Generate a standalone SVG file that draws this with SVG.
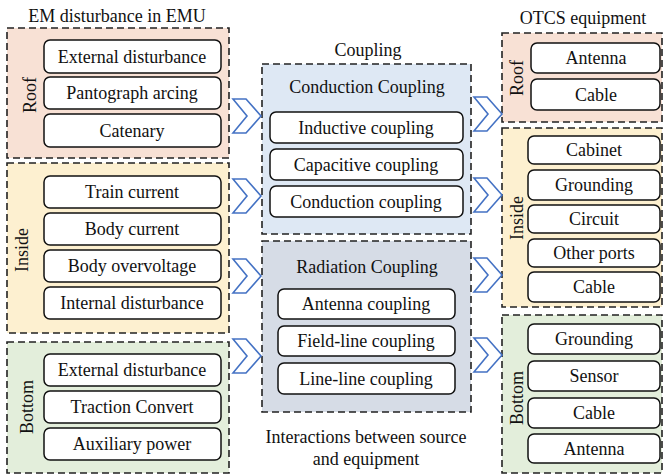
<svg xmlns="http://www.w3.org/2000/svg" width="663" height="475" viewBox="0 0 663 475" font-family="'Liberation Serif', 'Times New Roman', Times, 'DejaVu Serif', serif">
<defs>
<style>
text{font-size:18px;fill:#111;text-anchor:middle}
.grp{stroke:#222;stroke-width:1.6;stroke-dasharray:7 4}
.box{fill:#fff;stroke:#111;stroke-width:1.5}
.chev{fill:#fff;stroke:#4472c4;stroke-width:1.6;stroke-linejoin:miter}
.roof{fill:#f8e1d5}.inside{fill:#fdf0d0}.bottom{fill:#e3eedb}
.cond{fill:#dee8f4}.rad{fill:#d6dce6}
</style>
<polygon id="chev" class="chev" points="0,-17 13,-17 28,0 13,17 0,17 14,0"/>
</defs>
<rect width="663" height="475" fill="#fff"/>

<text x="117" y="22">EM disturbance in EMU</text>
<text x="368" y="56">Coupling</text>
<text x="583" y="24">OTCS equipment</text>

<g id="src-roof">
<rect class="grp roof" x="7" y="28" width="222" height="130"/>
<text transform="translate(36,95) rotate(-90)">Roof</text>
<rect class="box" x="44" y="40" width="177" height="33" rx="6"/><text x="132" y="63">External disturbance</text>
<rect class="box" x="44" y="77" width="177" height="32" rx="6"/><text x="132" y="99">Pantograph arcing</text>
<rect class="box" x="44" y="114" width="177" height="33" rx="6"/><text x="132" y="137">Catenary</text>
</g>
<g id="src-inside">
<rect class="grp inside" x="7" y="163" width="222" height="170"/>
<text transform="translate(28,250) rotate(-90)">Inside</text>
<rect class="box" x="44" y="176" width="177" height="32" rx="6"/><text x="132" y="198">Train current</text>
<rect class="box" x="44" y="213" width="177" height="32" rx="6"/><text x="132" y="235">Body current</text>
<rect class="box" x="44" y="250" width="177" height="32" rx="6"/><text x="132" y="272">Body overvoltage</text>
<rect class="box" x="44" y="287" width="177" height="32" rx="6"/><text x="132" y="309">Internal disturbance</text>
</g>
<g id="src-bottom">
<rect class="grp bottom" x="7" y="342" width="222" height="131"/>
<text transform="translate(33,407) rotate(-90)">Bottom</text>
<rect class="box" x="44" y="354" width="177" height="32" rx="6"/><text x="132" y="376">External disturbance</text>
<rect class="box" x="44" y="391" width="177" height="32" rx="6"/><text x="132" y="413">Traction Convert</text>
<rect class="box" x="44" y="428" width="177" height="32" rx="6"/><text x="132" y="450">Auxiliary power</text>
</g>

<g id="conduction">
<rect class="grp cond" x="262" y="64" width="209" height="170"/>
<text x="367" y="93">Conduction Coupling</text>
<rect class="box" x="270" y="112" width="193" height="31" rx="6"/><text x="366" y="134">Inductive coupling</text>
<rect class="box" x="270" y="149" width="193" height="31" rx="6"/><text x="366" y="171">Capacitive coupling</text>
<rect class="box" x="270" y="186" width="193" height="31" rx="6"/><text x="366" y="208">Conduction coupling</text>
</g>
<g id="radiation">
<rect class="grp rad" x="262" y="241" width="209" height="171"/>
<text x="367" y="273">Radiation Coupling</text>
<rect class="box" x="278" y="289" width="177" height="30" rx="6"/><text x="366" y="310">Antenna coupling</text>
<rect class="box" x="278" y="326" width="177" height="30" rx="6"/><text x="366" y="347">Field-line coupling</text>
<rect class="box" x="278" y="363" width="177" height="31" rx="6"/><text x="366" y="385">Line-line coupling</text>
</g>
<text x="366" y="443">Interactions between source</text>
<text x="366" y="465">and equipment</text>

<g id="eq-roof">
<rect class="grp roof" x="502" y="33" width="160" height="89"/>
<text transform="translate(523,78) rotate(-90)">Roof</text>
<rect class="box" x="531" y="43" width="129" height="30" rx="6"/><text x="596" y="64">Antenna</text>
<rect class="box" x="531" y="79" width="129" height="31" rx="6"/><text x="596" y="101">Cable</text>
</g>
<g id="eq-inside">
<rect class="grp inside" x="502" y="128" width="160" height="179"/>
<text transform="translate(523,218) rotate(-90)">Inside</text>
<rect class="box" x="528" y="136" width="132" height="28" rx="6"/><text x="594" y="156">Cabinet</text>
<rect class="box" x="528" y="170" width="132" height="30" rx="6"/><text x="594" y="191">Grounding</text>
<rect class="box" x="528" y="205" width="132" height="28" rx="6"/><text x="594" y="225">Circuit</text>
<rect class="box" x="528" y="239" width="132" height="28" rx="6"/><text x="594" y="259">Other ports</text>
<rect class="box" x="528" y="272" width="132" height="30" rx="6"/><text x="594" y="293">Cable</text>
</g>
<g id="eq-bottom">
<rect class="grp bottom" x="502" y="315" width="160" height="158"/>
<text transform="translate(523,398) rotate(-90)">Bottom</text>
<rect class="box" x="528" y="324" width="132" height="30" rx="6"/><text x="594" y="345">Grounding</text>
<rect class="box" x="528" y="361" width="132" height="30" rx="6"/><text x="594" y="382">Sensor</text>
<rect class="box" x="528" y="398" width="132" height="30" rx="6"/><text x="594" y="419">Cable</text>
<rect class="box" x="528" y="434" width="132" height="29" rx="6"/><text x="594" y="455">Antenna</text>
</g>

<g id="connectors">
<use href="#chev" x="233" y="116"/>
<use href="#chev" x="233" y="196"/>
<use href="#chev" x="233" y="276"/>
<use href="#chev" x="233" y="356"/>
<use href="#chev" x="474" y="114"/>
<use href="#chev" x="474" y="195"/>
<use href="#chev" x="474" y="275"/>
<use href="#chev" x="474" y="355"/>
</g>
</svg>
